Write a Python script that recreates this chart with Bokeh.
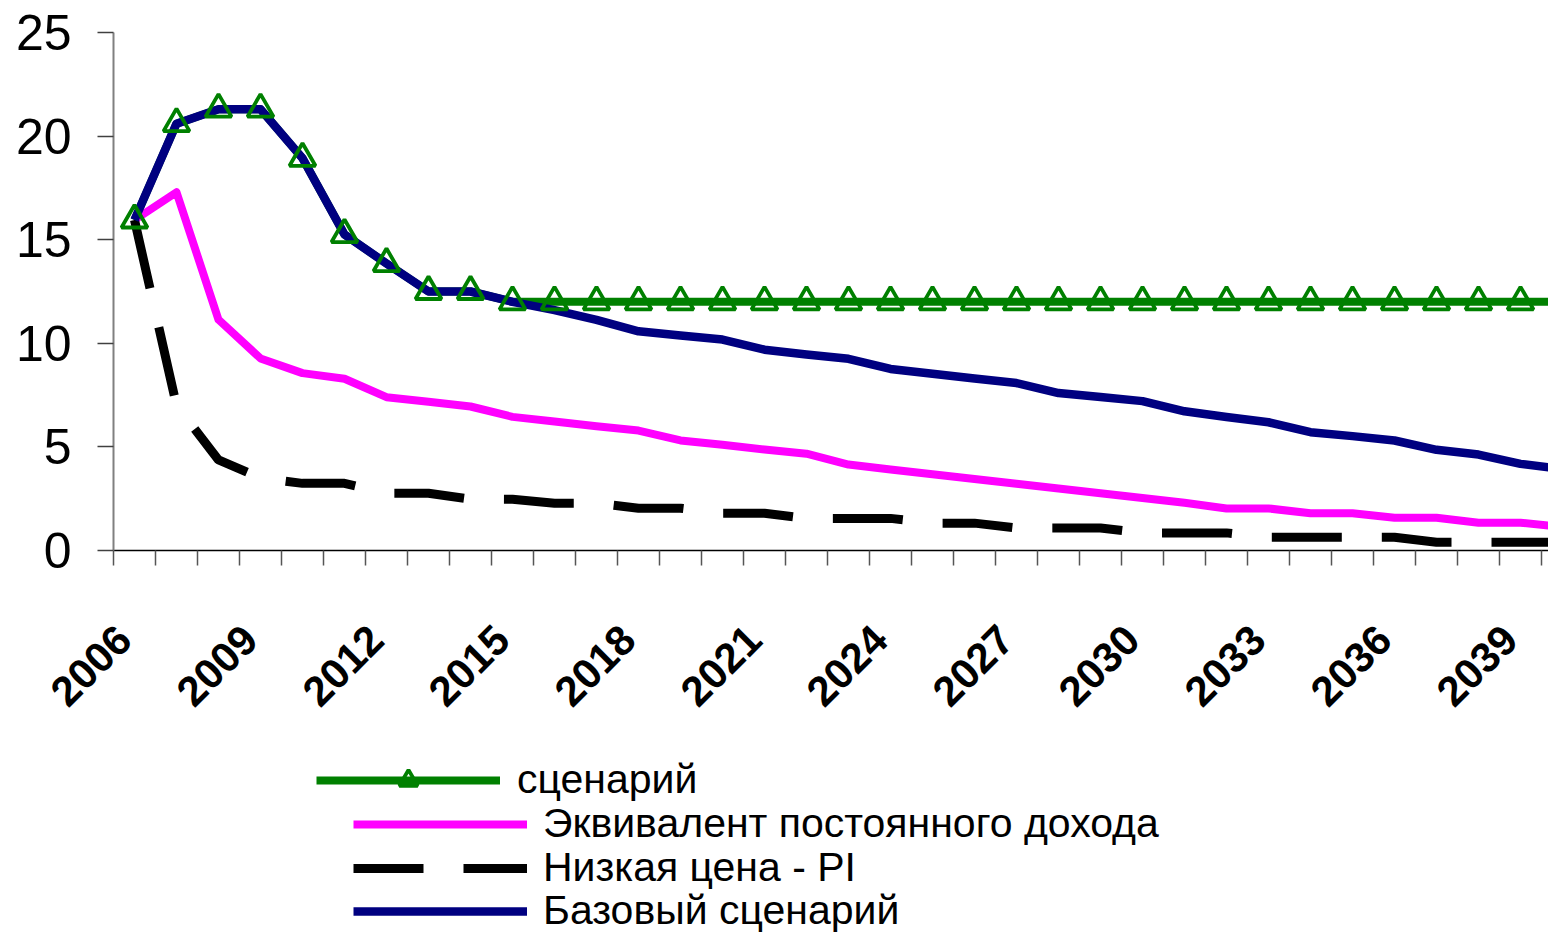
import math
from bokeh.plotting import figure
from bokeh.models import LinearAxis, FixedTicker, Range1d, Legend, LegendItem
from bokeh.layouts import column
from bokeh.embed import file_html
from bokeh.resources import INLINE

# ---------------- data ----------------
years = [2006, 2007, 2008, 2009, 2010, 2011, 2012, 2013, 2014, 2015,
         2016, 2017, 2018, 2019, 2020, 2021, 2022, 2023, 2024, 2025,
         2026, 2027, 2028, 2029, 2030, 2031, 2032, 2033, 2034, 2035,
         2036, 2037, 2038, 2039, 2040]

tick_years = [2006, 2009, 2012, 2015, 2018, 2021, 2024, 2027, 2030, 2033, 2036, 2039]
y_ticks = [0, 5, 10, 15, 20, 25]

scenario = [15.95, 20.6, 21.3, 21.3, 18.93, 15.25, 13.85, 12.5, 12.5, 12.0,
            12.0, 12.0, 12.0, 12.0, 12.0, 12.0, 12.0, 12.0, 12.0, 12.0,
            12.0, 12.0, 12.0, 12.0, 12.0, 12.0, 12.0, 12.0, 12.0, 12.0,
            12.0, 12.0, 12.0, 12.0, 12.0]

equivalent = [15.95, 17.29, 11.14, 9.27, 8.56, 8.29, 7.4, 7.18, 6.95, 6.45,
              6.23, 6.0, 5.79, 5.31, 5.1, 4.87, 4.67, 4.15, 3.91, 3.68,
              3.45, 3.22, 2.99, 2.76, 2.53, 2.3, 2.03, 2.03, 1.8, 1.8,
              1.58, 1.58, 1.34, 1.34, 1.13]

low_price = [15.95, 7.0, 4.37, 3.5, 3.24, 3.24, 2.76, 2.76, 2.48, 2.47,
             2.28, 2.28, 2.04, 2.04, 1.8, 1.8, 1.55, 1.55, 1.55, 1.32,
             1.32, 1.09, 1.09, 1.09, 0.85, 0.85, 0.85, 0.64, 0.64, 0.64,
             0.64, 0.4, 0.4, 0.4, 0.4]

base = [15.95, 20.6, 21.3, 21.3, 18.93, 15.25, 13.85, 12.5, 12.5, 12.0,
        11.6, 11.13, 10.58, 10.38, 10.18, 9.69, 9.46, 9.25, 8.76, 8.53,
        8.3, 8.08, 7.6, 7.41, 7.21, 6.72, 6.44, 6.19, 5.71, 5.52,
        5.31, 4.86, 4.63, 4.18, 3.93]

labels = ["сценарий", "Эквивалент постоянного дохода", "Низкая цена - PI", "Базовый сценарий"]

# ---------------- styles ----------------
FONT = "Liberation Sans"
GREEN, MAGENTA, BLACK, NAVY = "#008000", "#FF00FF", "#000000", "#000080"
W = 1548
H_MAIN, H_LEG = 745, 190
LEFT, TOP = 113, 32
FRAME_H = 518
px_per_year = 42.0
x_start = years[0] - 0.5
x_end = x_start + (W - LEFT) / px_per_year


def add_series(fig):
    rg = fig.line(years, scenario, line_color=GREEN, line_width=8, line_join="round")
    rm = fig.line(years, equivalent, line_color=MAGENTA, line_width=8, line_join="round")
    rb = fig.line(years, low_price, line_color=BLACK, line_width=9, line_dash="70 40")
    rn = fig.line(years, base, line_color=NAVY, line_width=8.5, line_join="round")
    rt = fig.scatter(years, scenario, marker="triangle", size=26, line_color=GREEN,
                     line_width=3.8, fill_color=None)
    return rg, rm, rb, rn, rt


# ---------------- main chart ----------------
p = figure(width=W, height=H_MAIN, output_backend="svg", toolbar_location=None,
           x_range=Range1d(x_start, x_end), y_range=Range1d(0, 25),
           x_axis_location=None)
p.min_border_left = LEFT
p.min_border_right = 0
p.min_border_top = TOP
p.min_border_bottom = H_MAIN - TOP - FRAME_H
p.outline_line_color = None
p.grid.visible = False

ya = p.yaxis[0]
ya.ticker = FixedTicker(ticks=y_ticks)
ya.major_tick_out = 16
ya.major_tick_in = 0
ya.minor_tick_out = 0
ya.minor_tick_in = 0
ya.axis_line_color = "#808080"
ya.axis_line_width = 2
ya.major_tick_line_color = "#404040"
ya.major_tick_line_width = 1.5
ya.major_label_text_font = FONT
ya.major_label_text_font_size = "50px"
ya.major_label_text_color = "black"
ya.major_label_standoff = 26

bounds = [y - 0.5 for y in years] + [years[-1] + 0.5]
xa1 = LinearAxis(ticker=FixedTicker(ticks=bounds))
xa1.major_tick_out = 15
xa1.major_tick_in = 0
xa1.minor_tick_out = 0
xa1.minor_tick_in = 0
xa1.axis_line_color = "black"
xa1.axis_line_width = 1.5
xa1.major_tick_line_color = "#555555"
xa1.major_tick_line_width = 1.5
xa1.major_label_overrides = {b: "" for b in bounds}
xa1.major_label_text_font_size = "1px"
xa1.major_label_standoff = 0
p.add_layout(xa1, "below")

shift = 0.25
label_pos = [t - shift for t in tick_years]
xa2 = LinearAxis(ticker=FixedTicker(ticks=label_pos))
xa2.major_label_overrides = {t - shift: str(t) for t in tick_years}
xa2.axis_line_color = None
xa2.major_tick_line_color = None
xa2.major_tick_out = 0
xa2.major_tick_in = 0
xa2.minor_tick_out = 0
xa2.minor_tick_in = 0
xa2.major_label_orientation = math.pi / 4
xa2.major_label_text_font = FONT
xa2.major_label_text_font_style = "bold"
xa2.major_label_text_font_size = "42px"
xa2.major_label_text_color = "black"
xa2.major_label_standoff = 67
p.add_layout(xa2, "below")

add_series(p)

# ---------------- legend panel (series kept outside its visible y range) ----------------
q = figure(width=W, height=H_LEG, output_backend="svg", toolbar_location=None,
           x_range=Range1d(x_start, x_end), y_range=Range1d(-20, -10),
           x_axis_location=None, y_axis_location=None)
q.min_border_left = 0
q.min_border_right = 0
q.min_border_top = 0
q.min_border_bottom = 0
q.outline_line_color = None
q.grid.visible = False
k_green, k_mag, k_black, k_navy, k_tri = add_series(q)

FRAME_LEFT = LEFT  # frames of the two figures are aligned by the column layout
ROW_H = 46


def make_legend(label, renderers, left, centre_y, gw, standoff):
    bottom = centre_y + ROW_H / 2
    lg = Legend(items=[LegendItem(label=label, renderers=renderers)],
                location=(left - FRAME_LEFT, H_LEG - bottom), glyph_width=gw,
                glyph_height=ROW_H, label_height=ROW_H, label_standoff=standoff,
                padding=0, margin=0, spacing=0, border_line_color=None,
                background_fill_alpha=0)
    lg.label_text_font = FONT
    lg.label_text_font_size = "41px"
    lg.label_text_color = "black"
    return lg


# row centres measured from the top of the legend panel (panel starts at y=745)
q.add_layout(make_legend(labels[0], [k_green, k_tri], 316, 35, 184, 17), "center")
q.add_layout(make_legend(labels[1], [k_mag], 353, 79, 174, 16), "center")
q.add_layout(make_legend(labels[2], [k_black], 353, 123, 174, 16), "center")
q.add_layout(make_legend(labels[3], [k_navy], 353, 166, 174, 16), "center")

layout = column(p, q, spacing=0)
open("out.html", "w").write(file_html(layout, INLINE))
